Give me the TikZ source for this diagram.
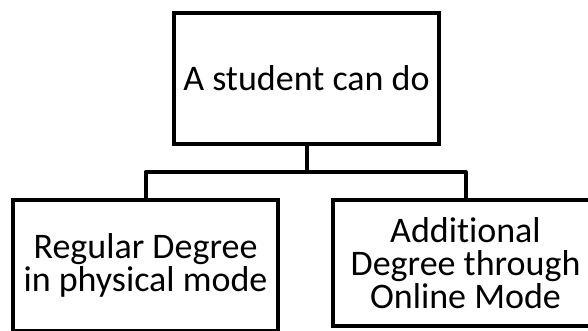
\documentclass[tikz,border=0pt]{standalone}
\usepackage{fontspec}
\setmainfont{Carlito}[Ligatures=NoCommon]
\begin{document}
\begin{tikzpicture}[x=1pt,y=-1pt,
  box/.style={draw=black, line width=4pt, fill=white, inner sep=0pt,
    align=center, font=\fontsize{36}{33}\selectfont},
  link/.style={draw=black, line width=4pt, line join=round}]
\useasboundingbox (0,0) rectangle (588,331);
% boxes
\node[box, minimum width=265pt, minimum height=131pt] (root) at (306.5,78.5) {A student can do};
\node[box, minimum width=265pt, minimum height=131pt] (left) at (145.5,265.5) {Regular Degree\\in physical mode};
\node[box, minimum width=265pt, minimum height=126pt] (right) at (465.5,263) {Additional\\Degree through\\Online Mode};
% tree connectors
\coordinate (mid) at (306.5,172);
\draw[link] (root.south) -- (mid);
\draw[link] (left.north) |- (mid) -| (right.north);
\end{tikzpicture}
\end{document}
